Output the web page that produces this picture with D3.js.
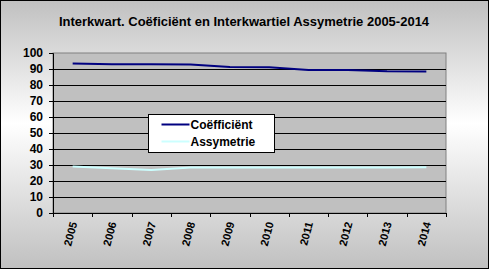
<!DOCTYPE html>
<html>
<head>
<meta charset="utf-8">
<script src="https://cdn.jsdelivr.net/npm/d3@7"></script>
<style>
  body { margin: 0; }
  text { font-family: "Liberation Sans", Arial, sans-serif; font-weight: bold; }
</style>
</head>
<body>
<div id="chart"></div>
<script>
const years = ["2005", "2006", "2007", "2008", "2009", "2010", "2011", "2012", "2013", "2014"];
const coefficient = [93.5, 92.9, 92.9, 92.8, 91.2, 91.1, 89.4, 89.3, 88.6, 88.5];
const asymmetry = [29.1, 27.9, 26.8, 28.4, 28.4, 28.4, 28.4, 28.5, 28.5, 28.6];
const yTicks = [0, 10, 20, 30, 40, 50, 60, 70, 80, 90, 100];

const width = 489, height = 269;
const margin = { top: 53, right: 43, bottom: 56, left: 53 };
const boundedWidth = width - margin.left - margin.right;
const boundedHeight = height - margin.top - margin.bottom;

const svg = d3.select("#chart").append("svg")
  .attr("width", width)
  .attr("height", height);

const grad = svg.append("defs").append("linearGradient")
  .attr("id", "bg").attr("x1", 0).attr("y1", 0).attr("x2", 0).attr("y2", 1);
grad.append("stop").attr("offset", "0%").attr("stop-color", "#c0c0c0");
grad.append("stop").attr("offset", "46%").attr("stop-color", "#ffffff");
grad.append("stop").attr("offset", "100%").attr("stop-color", "#c0c0c0");

svg.append("rect")
  .attr("x", 0.5).attr("y", 0.5)
  .attr("width", width - 1).attr("height", height - 1)
  .attr("fill", "url(#bg)")
  .attr("stroke", "#000");

svg.append("text")
  .attr("x", 244).attr("y", 26)
  .attr("text-anchor", "middle")
  .style("font-size", "13px")
  .text("Interkwart. Coëficiënt en Interkwartiel Assymetrie 2005-2014");

const bounds = svg.append("g")
  .attr("transform", `translate(${margin.left},${margin.top})`);

const xScale = d3.scaleBand().domain(years).range([0, boundedWidth]);
const yScale = d3.scaleLinear().domain([0, 100]).range([boundedHeight, 0]);

bounds.append("rect")
  .attr("width", boundedWidth).attr("height", boundedHeight)
  .attr("fill", "#c0c0c0")
  .attr("stroke", "#808080");

// gridlines
bounds.selectAll(".grid").data(yTicks.filter(d => d > 0 && d < 100)).join("line")
  .attr("x1", 0).attr("x2", boundedWidth)
  .attr("y1", d => Math.round(yScale(d)) + 0.5)
  .attr("y2", d => Math.round(yScale(d)) + 0.5)
  .attr("stroke", "#000");

const yAxis = bounds.append("g")
  .call(d3.axisLeft(yScale).tickValues(yTicks).tickSize(4).tickPadding(6));
yAxis.select(".domain").attr("stroke", "#000");
yAxis.selectAll("text").style("font-size", "12px").attr("fill", "#000");

const xAxis = bounds.append("g")
  .attr("transform", `translate(0,${boundedHeight})`)
  .call(d3.axisBottom(xScale).tickSize(0).tickFormat(""));
xAxis.select(".domain").attr("stroke", "#000");

// category separators
bounds.selectAll(".xtick").data(years.concat([null])).join("line")
  .attr("x1", (d, i) => Math.round(i * xScale.bandwidth()) + 0.5)
  .attr("x2", (d, i) => Math.round(i * xScale.bandwidth()) + 0.5)
  .attr("y1", boundedHeight).attr("y2", boundedHeight + 4)
  .attr("stroke", "#000");

bounds.selectAll(".xlabel").data(years).join("text")
  .attr("transform", d => `translate(${xScale(d) + xScale.bandwidth() / 2 + 1},${boundedHeight + 9}) rotate(-75)`)
  .attr("text-anchor", "end")
  .attr("dy", "0.35em")
  .style("font-size", "11px")
  .text(d => d);

const line = d3.line()
  .x((d, i) => xScale(years[i]) + xScale.bandwidth() / 2)
  .y(d => yScale(d));

bounds.append("path")
  .attr("d", line(coefficient))
  .attr("fill", "none").attr("stroke", "#000080").attr("stroke-width", 2);

bounds.append("path")
  .attr("d", line(asymmetry))
  .attr("fill", "none").attr("stroke", "#ccffff").attr("stroke-width", 2);

// legend
const legend = svg.append("g").attr("transform", "translate(148.5,114.5)");
legend.append("rect")
  .attr("width", 126).attr("height", 38)
  .attr("fill", "#fff").attr("stroke", "#000");
const items = [["Coëfficiënt", "#000080"], ["Assymetrie", "#ccffff"]];
items.forEach(([label, color], i) => {
  const row = legend.append("g").attr("transform", `translate(0,${10 + i * 17})`);
  row.append("line").attr("x1", 13).attr("x2", 41).attr("y1", 0).attr("y2", 0)
    .attr("stroke", color).attr("stroke-width", 2);
  row.append("text").attr("x", 42).attr("dy", "0.35em")
    .style("font-size", "12px").text(label);
});
</script>
</body>
</html>
